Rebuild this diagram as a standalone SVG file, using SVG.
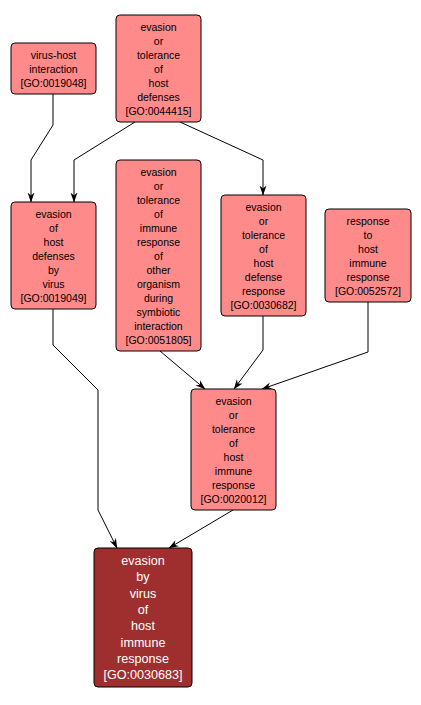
<svg xmlns="http://www.w3.org/2000/svg" width="421" height="705" viewBox="0 0 421 705">
<style>
.n rect{fill:#ff8a8a;stroke:#000;stroke-width:1}
.n text{font-family:"Liberation Sans",Arial,sans-serif;font-size:10.5px;fill:#000;text-anchor:middle}
.d rect{fill:#9f2f2f;stroke:#000;stroke-width:1}
.d text{font-family:"Liberation Sans",Arial,sans-serif;font-size:12.6px;fill:#fff;text-anchor:middle}
#edges path{fill:none;stroke:#000;stroke-width:1;marker-end:url(#a)}
</style>
<defs>
<marker id="a" markerWidth="10" markerHeight="8" refX="9.5" refY="4" orient="auto" markerUnits="userSpaceOnUse">
<path d="M0,0.5 L10,4 L0,7.5 L3,4 Z" fill="#000"/>
</marker>
</defs>
<rect width="421" height="705" fill="#fff"/>
<g id="edges">
<path d="M53,94 L53,125 L31,160 L31,202"/>
<path d="M135,122 L74,160 L74,202"/>
<path d="M180,122 L263,160 L263,195"/>
<path d="M53,309 L53,345 L98,390 L98,510 L117,548"/>
<path d="M160,351 L205,389"/>
<path d="M263,316 L263,350 L234,389"/>
<path d="M368,302 L368,352 L262,389"/>
<path d="M233,510 L169,548"/>
</g>
<g id="GO0019048" class="n">
<rect x="11" y="43" width="85" height="51" rx="4"/>
<text x="53.5" y="58.5">virus-host</text>
<text x="53.5" y="72.5">interaction</text>
<text x="53.5" y="86.5">[GO:0019048]</text>
</g>
<g id="GO0044415" class="n">
<rect x="116" y="15" width="85" height="107" rx="4"/>
<text x="158.5" y="30.5">evasion</text>
<text x="158.5" y="44.5">or</text>
<text x="158.5" y="58.5">tolerance</text>
<text x="158.5" y="72.5">of</text>
<text x="158.5" y="86.5">host</text>
<text x="158.5" y="100.5">defenses</text>
<text x="158.5" y="114.5">[GO:0044415]</text>
</g>
<g id="GO0019049" class="n">
<rect x="11" y="202" width="85" height="107" rx="4"/>
<text x="53.5" y="217.5">evasion</text>
<text x="53.5" y="231.5">of</text>
<text x="53.5" y="245.5">host</text>
<text x="53.5" y="259.5">defenses</text>
<text x="53.5" y="273.5">by</text>
<text x="53.5" y="287.5">virus</text>
<text x="53.5" y="301.5">[GO:0019049]</text>
</g>
<g id="GO0051805" class="n">
<rect x="116" y="160" width="85" height="191" rx="4"/>
<text x="158.5" y="175.5">evasion</text>
<text x="158.5" y="189.5">or</text>
<text x="158.5" y="203.5">tolerance</text>
<text x="158.5" y="217.5">of</text>
<text x="158.5" y="231.5">immune</text>
<text x="158.5" y="245.5">response</text>
<text x="158.5" y="259.5">of</text>
<text x="158.5" y="273.5">other</text>
<text x="158.5" y="287.5">organism</text>
<text x="158.5" y="301.5">during</text>
<text x="158.5" y="315.5">symbiotic</text>
<text x="158.5" y="329.5">interaction</text>
<text x="158.5" y="343.5">[GO:0051805]</text>
</g>
<g id="GO0030682" class="n">
<rect x="221" y="195" width="85" height="121" rx="4"/>
<text x="263.5" y="210.5">evasion</text>
<text x="263.5" y="224.5">or</text>
<text x="263.5" y="238.5">tolerance</text>
<text x="263.5" y="252.5">of</text>
<text x="263.5" y="266.5">host</text>
<text x="263.5" y="280.5">defense</text>
<text x="263.5" y="294.5">response</text>
<text x="263.5" y="308.5">[GO:0030682]</text>
</g>
<g id="GO0052572" class="n">
<rect x="325" y="209" width="86" height="93" rx="4"/>
<text x="368" y="224.5">response</text>
<text x="368" y="238.5">to</text>
<text x="368" y="252.5">host</text>
<text x="368" y="266.5">immune</text>
<text x="368" y="280.5">response</text>
<text x="368" y="294.5">[GO:0052572]</text>
</g>
<g id="GO0020012" class="n">
<rect x="191" y="389" width="85" height="121" rx="4"/>
<text x="233.5" y="404.5">evasion</text>
<text x="233.5" y="418.5">or</text>
<text x="233.5" y="432.5">tolerance</text>
<text x="233.5" y="446.5">of</text>
<text x="233.5" y="460.5">host</text>
<text x="233.5" y="474.5">immune</text>
<text x="233.5" y="488.5">response</text>
<text x="233.5" y="502.5">[GO:0020012]</text>
</g>
<g id="GO0030683" class="d">
<rect x="94" y="548" width="98" height="139" rx="4"/>
<text x="143" y="565">evasion</text>
<text x="143" y="581.3">by</text>
<text x="143" y="597.6">virus</text>
<text x="143" y="613.9">of</text>
<text x="143" y="630.2">host</text>
<text x="143" y="646.5">immune</text>
<text x="143" y="662.8">response</text>
<text x="143" y="679.1">[GO:0030683]</text>
</g>
</svg>
